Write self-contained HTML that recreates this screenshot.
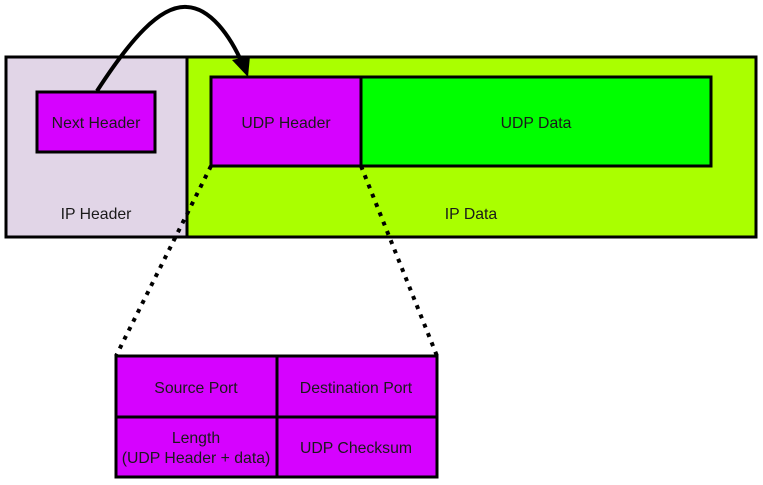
<!DOCTYPE html>
<html><head><style>body{margin:0;background:#fff}svg{display:block}text{font-family:"Liberation Sans",sans-serif;font-size:15.8px;fill:#1a1a1a}</style></head><body>
<svg width="763" height="485" viewBox="0 0 763 485">
<rect x="6" y="57" width="181" height="180" fill="#e1d5e7" stroke="#000" stroke-width="3"/>
<rect x="187" y="57" width="569" height="180" fill="#aaff00" stroke="#000" stroke-width="3"/>
<rect x="37" y="92" width="118" height="60" fill="#d602ff" stroke="#000" stroke-width="3"/>
<rect x="211" y="77" width="150" height="89" fill="#d602ff" stroke="#000" stroke-width="3"/>
<rect x="361" y="77" width="350" height="89" fill="#00ff00" stroke="#000" stroke-width="3"/>
<text x="96" y="128" text-anchor="middle">Next Header</text>
<text x="96" y="219" text-anchor="middle">IP Header</text>
<text x="286" y="128" text-anchor="middle">UDP Header</text>
<text x="536" y="128" text-anchor="middle">UDP Data</text>
<text x="471" y="219" text-anchor="middle">IP Data</text>
<path d="M97 91 C130 40 160 5 187 7 C210 8 230 35 243 65" fill="none" stroke="#000" stroke-width="4"/>
<polygon points="232,60 248,77 250,56" fill="#000"/>
<line x1="211" y1="166" x2="116" y2="356" stroke="#000" stroke-width="4" stroke-dasharray="4 6"/>
<line x1="361" y1="166" x2="437" y2="356" stroke="#000" stroke-width="4" stroke-dasharray="4 6"/>
<rect x="116" y="356" width="161" height="61" fill="#d602ff" stroke="#000" stroke-width="3"/>
<rect x="277" y="356" width="160" height="61" fill="#d602ff" stroke="#000" stroke-width="3"/>
<rect x="116" y="417" width="161" height="60" fill="#d602ff" stroke="#000" stroke-width="3"/>
<rect x="277" y="417" width="160" height="60" fill="#d602ff" stroke="#000" stroke-width="3"/>
<text x="196" y="393" text-anchor="middle">Source Port</text>
<text x="356" y="393" text-anchor="middle">Destination Port</text>
<text x="196" y="443" text-anchor="middle">Length</text>
<text x="196" y="463" text-anchor="middle">(UDP Header + data)</text>
<text x="356" y="453" text-anchor="middle">UDP Checksum</text>
</svg>
</body></html>
